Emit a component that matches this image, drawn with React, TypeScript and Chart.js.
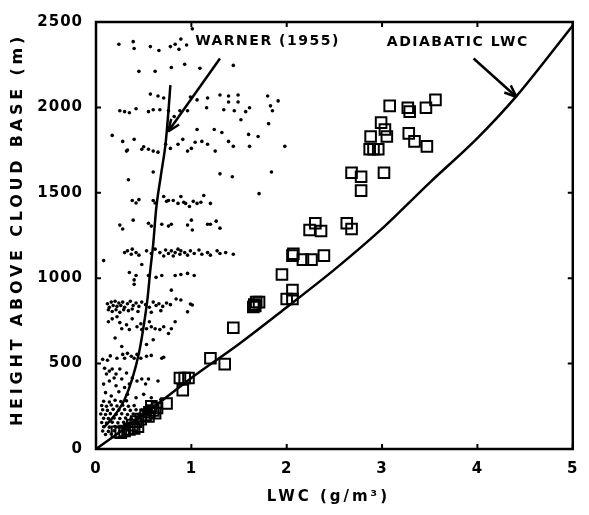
import React, { useEffect, useRef } from "react";
import { Chart, registerables } from "chart.js";

Chart.register(...registerables);

// ---------- axes ----------
const X_TICKS = [0, 1, 2, 3, 4, 5];
const Y_TICKS = [0, 500, 1000, 1500, 2000, 2500];
const X_TITLE = "LWC (g/m³)";
const Y_TITLE = "HEIGHT ABOVE CLOUD BASE (m)";

// ---------- curves ----------
const adiabaticLwc = [0, 0.5, 1, 1.5, 2, 2.5, 3, 3.5, 4, 4.4, 5];
const adiabaticHeight = [0, 200, 416, 615, 830, 1050, 1290, 1560, 1820, 2060, 2480];

const warnerLwc = [0.08, 0.2, 0.3, 0.38, 0.45, 0.5, 0.54, 0.57, 0.6, 0.63, 0.68, 0.73, 0.76, 0.78];
const warnerHeight = [125, 200, 290, 410, 560, 720, 880, 1050, 1200, 1400, 1600, 1790, 1980, 2130];

// ---------- observations (squares) ----------
const squaresUpper: [number, number][] = [
  [3.08, 2009], [3.27, 1998], [3.29, 1975], [3.46, 1998], [3.56, 2044], [2.99, 1911],
  [3.03, 1871], [3.05, 1830], [2.88, 1830], [2.87, 1755], [2.91, 1755], [2.96, 1755],
  [3.28, 1848], [3.34, 1801], [3.47, 1772], [2.68, 1617], [2.78, 1594], [3.02, 1617],
  [2.78, 1513],
];
const squaresMiddle: [number, number][] = [
  [2.3, 1322], [2.24, 1282], [2.36, 1276], [2.63, 1322], [2.68, 1288], [2.07, 1143],
  [2.06, 1132], [2.17, 1109], [2.26, 1109], [2.39, 1132], [1.95, 1022], [2.06, 930],
  [2.0, 878], [2.06, 878], [1.68, 860], [1.65, 831], [1.71, 860], [1.66, 845], [1.67, 838],
  [1.44, 710], [1.2, 531], [1.35, 497],
];
const squaresLower: [number, number][] = [
  [0.88, 416], [0.93, 416], [0.97, 416], [0.91, 345], [0.74, 266], [0.52, 200], [0.56, 215],
  [0.6, 225], [0.64, 240], [0.58, 250], [0.62, 210], [0.55, 190], [0.47, 175], [0.42, 160],
  [0.38, 140], [0.44, 130], [0.35, 115], [0.3, 105], [0.26, 95], [0.22, 100], [0.4, 120],
];

// ---------- Warner (1955) data (dots) ----------
const dotsTop: [number, number][] = [
  [0.24, 2370], [0.39, 2385], [0.4, 2345], [0.57, 2356], [0.66, 2333], [0.78, 2356], [0.83, 2370],
  [0.87, 2340], [0.89, 2400], [0.95, 2365], [1.01, 2460],
  [0.45, 2211], [0.62, 2211], [0.79, 2234], [0.93, 2252], [1.09, 2229], [1.44, 2246],
  [0.57, 2078], [0.65, 2067], [0.71, 2055], [0.99, 2061], [1.06, 2044], [1.17, 2055], [1.3, 2073],
  [1.39, 2067], [1.39, 2032], [1.49, 2073], [1.49, 2032], [1.8, 2067], [1.91, 2038],
  [0.25, 1980], [0.3, 1975], [0.35, 1969], [0.42, 1992], [0.55, 1975], [0.6, 1986], [0.67, 1986],
  [0.76, 1980], [0.82, 1946], [0.88, 1980], [0.96, 1980], [1.16, 1998], [1.34, 1986], [1.45, 1980],
  [1.57, 1975], [1.61, 1998], [1.52, 1928], [1.81, 1905], [1.83, 2009], [1.85, 1980],
];
const dotsUpperMid: [number, number][] = [
  [0.17, 1836], [0.28, 1801], [0.32, 1744], [0.4, 1813], [0.48, 1755], [0.55, 1755], [0.6, 1744],
  [0.65, 1738], [0.73, 1784], [0.86, 1784], [0.91, 1813], [0.96, 1744], [1.06, 1871], [1.04, 1796],
  [1.11, 1801], [1.17, 1784], [1.24, 1871], [1.25, 1744], [1.32, 1853], [1.39, 1801], [1.44, 1772],
  [1.6, 1842], [1.61, 1772], [1.7, 1830], [1.98, 1772], [0.33, 1750], [0.5, 1770], [0.78, 1760],
  [1.0, 1760],
  [0.34, 1576], [0.6, 1622], [1.3, 1611], [1.43, 1594], [1.84, 1622], [1.71, 1495],
  [0.38, 1455], [0.42, 1440], [0.45, 1460], [0.6, 1455], [0.62, 1440], [0.71, 1478], [0.74, 1450],
  [0.76, 1455], [0.81, 1455], [0.86, 1438], [0.89, 1478], [0.92, 1445], [0.94, 1438], [0.98, 1420],
  [1.02, 1450], [1.06, 1438], [1.1, 1445], [1.13, 1484], [1.2, 1438],
];
const dotsMid: [number, number][] = [
  [0.25, 1311], [0.28, 1288], [0.39, 1340], [0.55, 1322], [0.58, 1305], [0.69, 1316], [0.76, 1305],
  [0.79, 1316], [0.96, 1311], [1.0, 1340], [1.01, 1282], [1.17, 1316], [1.2, 1316], [1.26, 1334],
  [1.3, 1293],
  [0.3, 1150], [0.33, 1160], [0.37, 1140], [0.38, 1170], [0.42, 1150], [0.45, 1135], [0.53, 1160],
  [0.58, 1145], [0.62, 1170], [0.67, 1150], [0.71, 1130], [0.73, 1165], [0.76, 1145], [0.79, 1160],
  [0.81, 1130], [0.83, 1150], [0.86, 1170], [0.88, 1140], [0.89, 1160], [0.93, 1150], [0.96, 1135],
  [0.99, 1160], [1.03, 1145], [1.08, 1165], [1.11, 1140], [1.17, 1150], [1.2, 1135], [1.27, 1160],
  [1.3, 1145], [1.36, 1150], [1.44, 1140],
  [0.08, 1103], [0.48, 1080], [0.4, 964],
  [0.35, 1033], [0.42, 1016], [0.4, 990], [0.55, 1016], [0.63, 1005], [0.69, 1016], [0.83, 1016],
  [0.89, 1022], [0.96, 1028], [1.03, 1016],
  [0.79, 930], [0.84, 878], [0.89, 872], [0.99, 849], [1.01, 843], [0.96, 803],
];
const dotsLow: [number, number][] = [
  [0.12, 850], [0.14, 830], [0.16, 860], [0.18, 840], [0.2, 865], [0.22, 835], [0.24, 855],
  [0.26, 840], [0.28, 860], [0.3, 830], [0.33, 850], [0.36, 865], [0.39, 840], [0.42, 855],
  [0.45, 835], [0.48, 860], [0.52, 845], [0.56, 830], [0.6, 860], [0.63, 840], [0.66, 850],
  [0.7, 835], [0.74, 855], [0.78, 845],
  [0.13, 815], [0.17, 805], [0.21, 815], [0.25, 800], [0.29, 815], [0.34, 810], [0.38, 820],
  [0.44, 805], [0.58, 800], [0.68, 810],
  [0.17, 762], [0.22, 774], [0.27, 704], [0.32, 727], [0.35, 699], [0.38, 762], [0.43, 716],
  [0.47, 733], [0.48, 699], [0.53, 704], [0.58, 716], [0.62, 704], [0.67, 699], [0.71, 716],
  [0.76, 676], [0.79, 704], [0.83, 745], [0.13, 745], [0.25, 740], [0.56, 745],
  [0.27, 600], [0.53, 612], [0.2, 650], [0.6, 640],
  [0.07, 525], [0.22, 531], [0.28, 554], [0.3, 531], [0.33, 560], [0.37, 543], [0.4, 531],
  [0.43, 554], [0.47, 531], [0.53, 543], [0.58, 548], [0.69, 531], [0.71, 537], [0.15, 545],
  [0.12, 520],
];
const dotsBottom: [number, number][] = [
  [0.09, 473], [0.14, 456], [0.21, 439], [0.25, 468], [0.19, 416], [0.11, 439], [0.14, 398],
  [0.17, 468], [0.21, 370], [0.27, 410], [0.32, 445], [0.35, 381], [0.38, 416], [0.43, 398],
  [0.48, 410], [0.52, 381], [0.55, 410], [0.65, 398], [0.08, 380], [0.3, 360],
  [0.1, 330], [0.16, 310], [0.24, 335], [0.33, 320], [0.42, 300], [0.5, 320], [0.58, 300], [0.68, 290],
  [0.08, 280], [0.14, 275], [0.2, 285], [0.26, 278], [0.32, 282],
  [0.06, 255], [0.11, 250], [0.16, 258], [0.22, 252], [0.28, 256], [0.34, 250], [0.4, 254],
  [0.07, 230], [0.12, 226], [0.18, 232], [0.24, 228], [0.3, 231], [0.36, 226], [0.42, 230], [0.48, 228],
  [0.05, 205], [0.1, 202], [0.15, 207], [0.21, 203], [0.27, 206], [0.33, 202], [0.39, 205], [0.45, 203], [0.51, 206],
  [0.08, 180], [0.13, 178], [0.19, 182], [0.25, 179], [0.31, 181], [0.37, 178], [0.43, 182],
  [0.06, 155], [0.11, 152], [0.17, 157], [0.23, 153], [0.29, 156], [0.35, 152],
  [0.08, 130], [0.14, 128], [0.2, 132], [0.26, 129], [0.32, 131],
  [0.07, 105], [0.13, 103], [0.19, 107], [0.25, 104],
  [0.1, 85], [0.16, 88],
];

// ---------- annotations (data units) ----------
const warnerLabel = { text: "WARNER (1955)", x: 1.04, y: 2385 };
const warnerArrow = { from: [1.3, 2286], to: [0.757, 1859] };
const adiabaticLabel = { text: "ADIABATIC LWC", x: 3.05, y: 2378 };
const adiabaticArrow = { from: [3.96, 2286], to: [4.41, 2061] };

const FONT = '"DejaVu Sans", sans-serif';

const toPts = (arr: [number, number][]) => arr.map(([x, y]) => ({ x, y }));

function drawArrow(ctx: CanvasRenderingContext2D, x1: number, y1: number, x2: number, y2: number) {
  ctx.beginPath();
  ctx.moveTo(x1, y1);
  ctx.lineTo(x2, y2);
  ctx.stroke();
  const ang = Math.atan2(y2 - y1, x2 - x1);
  const len = 13;
  for (const d of [-0.38, 0.38]) {
    ctx.beginPath();
    ctx.moveTo(x2, y2);
    ctx.lineTo(x2 - len * Math.cos(ang + d), y2 - len * Math.sin(ang + d));
    ctx.stroke();
  }
}

const framePlugin = {
  id: "frame",
  beforeDraw(chart: any) {
    chart.ctx.letterSpacing = "1px";
  },
  beforeDatasetsDraw(chart: any) {
    chart.ctx.letterSpacing = "0px";
  },
  afterDraw(chart: any) {
    const { ctx, chartArea: a, scales } = chart;
    const xs = scales.x;
    const ys = scales.y;
    ctx.save();
    ctx.strokeStyle = "#000";
    ctx.fillStyle = "#000";
    ctx.lineWidth = 2.5;
    ctx.strokeRect(a.left, a.top, a.right - a.left, a.bottom - a.top);
    ctx.lineWidth = 2;
    const tl = 5;
    for (const v of X_TICKS) {
      const px = xs.getPixelForValue(v);
      ctx.beginPath();
      ctx.moveTo(px, a.bottom);
      ctx.lineTo(px, a.bottom - tl);
      ctx.moveTo(px, a.top);
      ctx.lineTo(px, a.top + tl);
      ctx.stroke();
    }
    for (const v of Y_TICKS) {
      const py = ys.getPixelForValue(v);
      ctx.beginPath();
      ctx.moveTo(a.left, py);
      ctx.lineTo(a.left + tl, py);
      ctx.moveTo(a.right, py);
      ctx.lineTo(a.right - tl, py);
      ctx.stroke();
    }

    // annotation labels
    ctx.font = `bold 14px ${FONT}`;
    ctx.letterSpacing = "1.5px";
    ctx.textBaseline = "middle";
    ctx.textAlign = "left";
    ctx.fillText(warnerLabel.text, xs.getPixelForValue(warnerLabel.x), ys.getPixelForValue(warnerLabel.y));
    ctx.fillText(adiabaticLabel.text, xs.getPixelForValue(adiabaticLabel.x), ys.getPixelForValue(adiabaticLabel.y));

    ctx.lineWidth = 2.5;
    drawArrow(
      ctx,
      xs.getPixelForValue(warnerArrow.from[0]), ys.getPixelForValue(warnerArrow.from[1]),
      xs.getPixelForValue(warnerArrow.to[0]), ys.getPixelForValue(warnerArrow.to[1])
    );
    drawArrow(
      ctx,
      xs.getPixelForValue(adiabaticArrow.from[0]), ys.getPixelForValue(adiabaticArrow.from[1]),
      xs.getPixelForValue(adiabaticArrow.to[0]), ys.getPixelForValue(adiabaticArrow.to[1])
    );

    // axis titles
    ctx.font = `bold 15px ${FONT}`;
    ctx.textAlign = "center";
    ctx.letterSpacing = "3px";
    ctx.fillText(X_TITLE, (a.left + a.right) / 2 - 6, a.bottom + 48);
    ctx.save();
    ctx.translate(18, (a.top + a.bottom) / 2 - 6);
    ctx.rotate(-Math.PI / 2);
    ctx.font = `bold 16px ${FONT}`;
    ctx.letterSpacing = "3.8px";
    ctx.fillText(Y_TITLE, 0, 0);
    ctx.restore();

    ctx.restore();
  },
};

export default function App() {
  const ref = useRef<HTMLCanvasElement>(null);
  useEffect(() => {
    const canvas = ref.current;
    if (!canvas) return;
    const tickFont = { family: FONT, weight: "bold" as const, size: 15 };
    const chart = new Chart(canvas, {
      type: "scatter",
      data: {
        datasets: [
          {
            label: "Warner (1955) curve",
            data: warnerLwc.map((x, i) => ({ x, y: warnerHeight[i] })),
            showLine: true,
            borderColor: "#000",
            borderWidth: 2.5,
            pointRadius: 0,
            cubicInterpolationMode: "monotone",
            order: 0,
          } as any,
          {
            label: "Adiabatic LWC",
            data: adiabaticLwc.map((x, i) => ({ x, y: adiabaticHeight[i] })),
            showLine: true,
            borderColor: "#000",
            borderWidth: 2.5,
            pointRadius: 0,
            cubicInterpolationMode: "monotone",
            order: 1,
          } as any,
          {
            label: "Observed",
            data: toPts([...squaresUpper, ...squaresMiddle, ...squaresLower]),
            pointStyle: "rect",
            pointRadius: 7.5,
            borderWidth: 2,
            borderColor: "#000",
            backgroundColor: "rgba(0,0,0,0)",
            order: 2,
          },
          {
            label: "Warner (1955) data",
            data: toPts([...dotsTop, ...dotsUpperMid, ...dotsMid, ...dotsLow, ...dotsBottom]),
            pointRadius: 1.8,
            borderWidth: 0,
            backgroundColor: "#000",
            order: 3,
          },
        ],
      },
      options: {
        responsive: false,
        animation: false,
        events: [],
        layout: { padding: { top: 16, right: 5, left: 0, bottom: 0 } },
        plugins: { legend: { display: false }, tooltip: { enabled: false } },
        scales: {
          x: {
            type: "linear",
            min: 0,
            max: 5,
            afterFit: (s: any) => {
              s.height = 66;
            },
            grid: { display: false, drawTicks: false },
            border: { display: false },
            afterBuildTicks: (s: any) => {
              s.ticks = X_TICKS.map((v) => ({ value: v }));
            },
            ticks: { padding: 11, color: "#000", font: tickFont, callback: (v: any) => String(v) },
          },
          y: {
            type: "linear",
            min: 0,
            max: 2500,
            afterFit: (s: any) => {
              s.width = 96;
            },
            grid: { display: false, drawTicks: false },
            border: { display: false },
            afterBuildTicks: (s: any) => {
              s.ticks = Y_TICKS.map((v) => ({ value: v }));
            },
            ticks: { padding: 13, color: "#000", font: tickFont, callback: (v: any) => String(v) },
          },
        },
      },
      plugins: [framePlugin],
    });
    return () => chart.destroy();
  }, []);
  return (
    <div style={{ position: "absolute", left: 0, top: 0, width: 589, height: 515, background: "#fff" }}>
      <canvas ref={ref} width={589} height={515} style={{ display: "block" }} />
    </div>
  );
}
